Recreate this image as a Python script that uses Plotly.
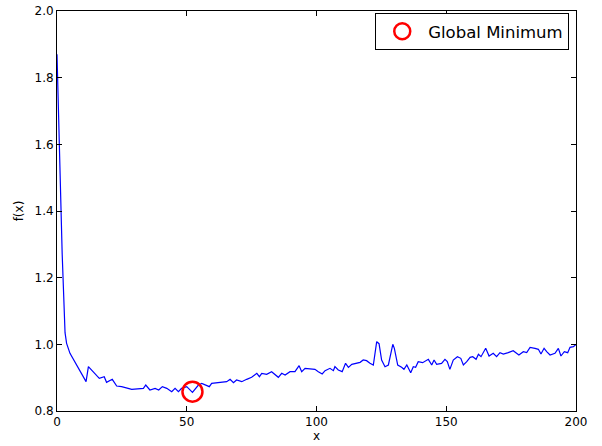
import plotly.graph_objects as go

x_vals = [0, 1, 2, 3.1, 3.7, 5, 6.9, 9.5, 11.2, 12.1, 14, 16.3, 18.2, 19.1, 21.3, 23, 24.9,
          28.8, 33.3, 34.2, 35.8, 37.8, 39.2, 40.6, 42.3, 44.2, 45.5, 46.8, 48, 50, 52.2,
          54.5, 55.8, 57.7, 58.7, 59.6, 62.2, 65.4, 66.7, 68, 69.2, 71.2, 73.1, 75, 77, 78,
          78.9, 80.8, 82.7, 85.3, 86.6, 87.9, 89.8, 91.7, 93.3, 94.3, 95.6, 98.1, 99.4,
          100.7, 102.2, 103.3, 105.2, 106.5, 107.1, 108.4, 109.9, 111.2, 112.3, 113.6,
          115.5, 116.8, 118, 119.3, 120.6, 121.9, 123.2, 124.1, 125.1, 126.4, 127.7, 129.4,
          130, 131.3, 132.8, 133.7, 134.8, 136.3, 137.3, 138.2, 139.2, 140.9, 143.1, 144.4,
          145.3, 146.3, 148.2, 149.5, 150.4, 151.4, 152.7, 154.3, 155.6, 156.6, 157.9,
          159.2, 160.2, 161.5, 162.4, 163.4, 165.2, 166.5, 168.1, 169.4, 170.7, 172, 173.9,
          175.8, 178, 179.7, 181, 182.3, 184.2, 185.5, 186.5, 187.7, 188.7, 190, 191.9,
          193.2, 194.2, 195.5, 196.8, 197.7, 199, 200]
y_vals = [1.87, 1.56, 1.27, 1.035, 1.003, 0.973, 0.948, 0.913, 0.888, 0.933, 0.918, 0.898,
          0.903, 0.886, 0.895, 0.875, 0.873, 0.865, 0.868, 0.878, 0.863, 0.868, 0.863,
          0.873, 0.868, 0.858, 0.868, 0.858, 0.868, 0.873, 0.856, 0.878, 0.883, 0.878,
          0.873, 0.883, 0.885, 0.888, 0.895, 0.885, 0.893, 0.888, 0.895, 0.901, 0.913,
          0.903, 0.913, 0.910, 0.918, 0.901, 0.913, 0.908, 0.918, 0.918, 0.936, 0.918,
          0.928, 0.925, 0.925, 0.918, 0.911, 0.921, 0.928, 0.921, 0.933, 0.923, 0.918,
          0.943, 0.931, 0.940, 0.943, 0.946, 0.953, 0.951, 0.943, 0.938, 1.008, 1.002,
          0.953, 0.933, 0.938, 1.000, 0.988, 0.938, 0.931, 0.925, 0.938, 0.915, 0.933,
          0.931, 0.948, 0.945, 0.955, 0.938, 0.953, 0.940, 0.943, 0.955, 0.948, 0.925,
          0.953, 0.963, 0.958, 0.938, 0.948, 0.961, 0.963, 0.955, 0.970, 0.963, 0.988,
          0.965, 0.973, 0.963, 0.975, 0.971, 0.975, 0.981, 0.968, 0.978, 0.975, 0.991,
          0.988, 0.985, 0.971, 0.988, 0.978, 0.968, 0.973, 0.988, 0.965, 0.978, 0.975,
          0.991, 0.993, 1.0]

min_x = [52.2]
min_y = [0.858]

fig = go.Figure()
fig.add_trace(go.Scatter(x=x_vals, y=y_vals, mode="lines",
                         line=dict(color="#0000ff", width=1.2), showlegend=False))
fig.add_trace(go.Scatter(x=min_x, y=min_y, mode="markers", name="Global Minimum",
                         marker=dict(symbol="circle-open", size=20, color="#ff0000",
                                     line=dict(width=2.5, color="#ff0000"))))

axis_common = dict(showline=True, linecolor="black", linewidth=1, mirror="ticks",
                   ticks="inside", ticklen=5, tickcolor="black", showgrid=False,
                   zeroline=False, automargin=False,
                   tickfont=dict(family="DejaVu Sans", size=12, color="black"))

fig.update_layout(
    template="none",
    width=602, height=446,
    margin=dict(l=57, r=26, t=11, b=35),
    paper_bgcolor="white", plot_bgcolor="white",
    font=dict(family="DejaVu Sans", size=12, color="black"),
    xaxis=dict(range=[0, 200], tickvals=[0, 50, 100, 150, 200],
               title=dict(text="x", standoff=2, font=dict(size=12)), **axis_common),
    yaxis=dict(range=[0.8, 2.0], tickvals=[0.8, 1.0, 1.2, 1.4, 1.6, 1.8, 2.0],
               ticktext=["0.8", "1.0", "1.2", "1.4", "1.6", "1.8", "2.0"],
               title=dict(text="f(x)", standoff=8, font=dict(size=12)), **axis_common),
    legend=dict(x=0.987, y=0.995, xanchor="right", yanchor="top",
                bordercolor="black", borderwidth=1, bgcolor="white", itemwidth=42,
                font=dict(family="DejaVu Sans", size=16.5)),
)

fig.write_html("out.html")
